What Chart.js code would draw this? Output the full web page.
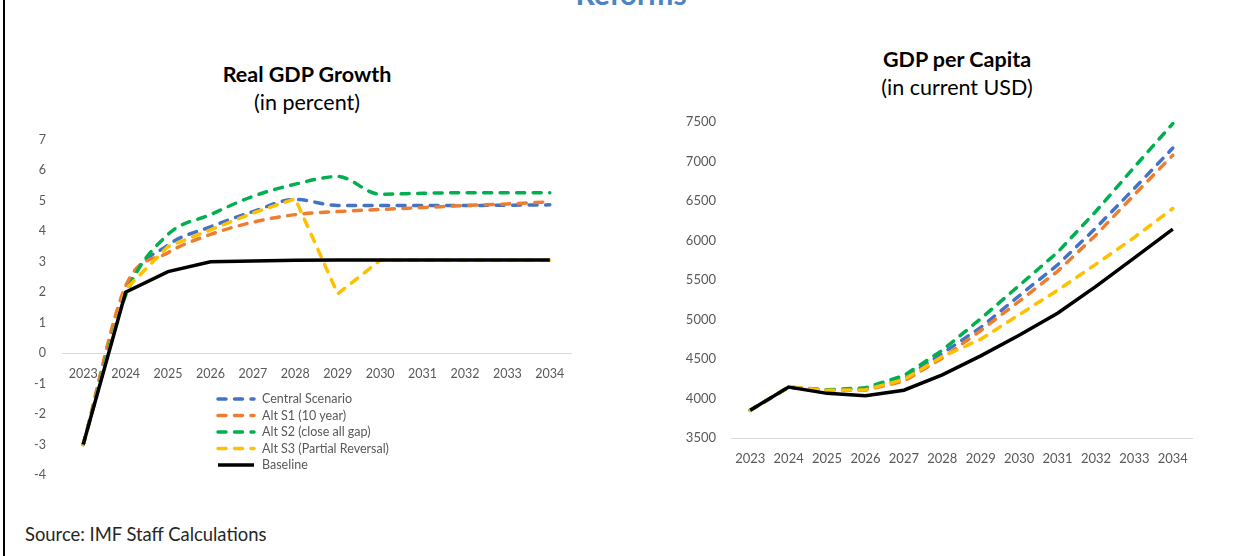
<!DOCTYPE html>
<html>
<head>
<meta charset="utf-8">
<script src="https://cdn.jsdelivr.net/npm/chart.js@4"></script>
<style>
  html, body { margin: 0; padding: 0; background: #fff; }
  body { width: 1236px; height: 556px; position: relative; overflow: hidden; font-family: Lato, "Noto Sans", sans-serif; }
  canvas { position: absolute; top: 0; }
  .frame { position: absolute; left: 3px; top: 0; width: 2px; height: 556px; background: #000; }
  .head { position: absolute; left: 0; width: 1236px; top: -22px; text-align: center; padding-left: 26px; box-sizing: border-box;
          font-size: 30px; line-height: 30px; font-weight: bold; color: #4a84c4; }
  .ttl { position: absolute; text-align: center; color: #000; font-size: 21.5px; line-height: 28px; }
  .ttl b { display: block; }
  .src { position: absolute; left: 25px; top: 523px; font-size: 18.4px; color: #262626; }
</style>
</head>
<body>
<div class="frame"></div>
<div class="head">Reforms</div>
<div class="ttl" style="left:157px; width:300px; top:60px;"><b>Real GDP Growth</b>(in percent)</div>
<div class="ttl" style="left:807px; width:300px; top:45px;"><b>GDP per Capita</b>(in current USD)</div>
<div class="src">Source: IMF Staff Calculations</div>
<canvas id="growth" style="left:0" width="618" height="556"></canvas>
<canvas id="perCapita" style="left:618px" width="618" height="556"></canvas>
<script>
// years on the x axis
const years = ['2023', '2024', '2025', '2026', '2027', '2028', '2029', '2030', '2031', '2032', '2033', '2034'];
const seriesNames = ['Central Scenario', 'Alt S1 (10 year)', 'Alt S2 (close all gap)', 'Alt S3 (Partial Reversal)', 'Baseline'];

// real GDP growth, percent
const growthCentral  = [-3.0, 2.1, 3.55, 4.15, 4.65, 5.05, 4.85, 4.85, 4.85, 4.85, 4.86, 4.87];
const growthAltS1    = [-3.0, 2.2, 3.3, 3.9, 4.3, 4.55, 4.65, 4.72, 4.78, 4.85, 4.9, 4.97];
const growthAltS2    = [-3.0, 1.9, 3.9, 4.55, 5.15, 5.55, 5.8, 5.22, 5.25, 5.27, 5.27, 5.27];
const growthAltS3    = [-3.0, 2.1, 3.5, 4.05, 4.6, 5.07, 1.95, 3.05, 3.05, 3.05, 3.05, 3.05];
const growthBaseline = [-3.0, 2.0, 2.68, 3.0, 3.03, 3.05, 3.06, 3.06, 3.06, 3.06, 3.06, 3.06];

// GDP per capita, current USD
const pcCentral  = [3850, 4145, 4110, 4120, 4250, 4570, 4900, 5300, 5690, 6160, 6660, 7170];
const pcAltS1    = [3850, 4145, 4105, 4105, 4220, 4510, 4860, 5230, 5610, 6070, 6580, 7080];
const pcAltS2    = [3850, 4140, 4110, 4135, 4290, 4610, 5010, 5430, 5850, 6370, 6930, 7480];
const pcAltS3    = [3850, 4145, 4105, 4110, 4240, 4530, 4750, 5060, 5370, 5700, 6040, 6405];
const pcBaseline = [3850, 4145, 4065, 4035, 4105, 4300, 4540, 4800, 5080, 5420, 5780, 6145];

const colors = ['#4472C4', '#ED7D31', '#00B050', '#FFC000', '#000000'];
const tickColor = '#595959';
const FONT = 'Lato, "Noto Sans", sans-serif';

function makeDatasets(rows, smooth) {
    return rows.map((data, i) => {
        const isBase = i === rows.length - 1;
        return {
            label: seriesNames[i],
            data: data,
            borderColor: colors[i],
            backgroundColor: colors[i],
            borderWidth: 3.5,
            borderDash: isBase ? [] : [8, 8.5],
            borderCapStyle: isBase ? 'butt' : 'round',
            pointRadius: 0,
            cubicInterpolationMode: (smooth && i < 3) ? 'monotone' : 'default',
            tension: 0,
            order: rows.length - 1 - i   // baseline drawn on top
        };
    });
}

// legend drawn inside the plot, under the axis
const innerLegend = {
    id: 'innerLegend',
    afterDraw(chart, args, opts) {
        if (!opts.show) return;
        const ctx = chart.ctx;
        ctx.save();
        ctx.font = '12.5px ' + FONT;
        ctx.textBaseline = 'middle';
        chart.data.datasets.forEach((ds, i) => {
            const y = opts.top + i * opts.gap;
            ctx.strokeStyle = ds.borderColor;
            ctx.lineWidth = ds.borderWidth;
            ctx.lineCap = ds.borderCapStyle;
            ctx.setLineDash(ds.borderDash);
            ctx.beginPath();
            ctx.moveTo(opts.left + 2, y);
            ctx.lineTo(opts.left + 38, y);
            ctx.stroke();
            ctx.fillStyle = tickColor;
            ctx.fillText(ds.label, opts.left + 46, y);
        });
        ctx.restore();
    }
};

function axisOptions(min, max, step, yWidth, yPad, xAt, xPad, xSize, ySize) {
    return {
        x: {
            type: 'category',
            offset: true,
            position: { y: xAt },
            grid: { display: false, drawTicks: false },
            border: { display: true, color: '#d9d9d9', width: 1 },
            ticks: { color: tickColor, font: { family: FONT, size: xSize }, padding: xPad, maxRotation: 0, autoSkip: false }
        },
        y: {
            min: min,
            max: max,
            grid: { display: false, drawTicks: false },
            border: { display: false },
            ticks: {
                stepSize: step, color: tickColor, font: { family: FONT, size: ySize }, padding: yPad,
                callback: (v) => String(v)
            },
            afterFit: (s) => { s.width = yWidth; }
        }
    };
}

new Chart(document.getElementById('growth').getContext('2d'), {
    type: 'line',
    data: {
        labels: years,
        datasets: makeDatasets([growthCentral, growthAltS1, growthAltS2, growthAltS3, growthBaseline], true)
    },
    options: {
        responsive: false,
        animation: false,
        layout: { padding: { left: 10, top: 140, right: 47, bottom: 81 } },
        scales: axisOptions(-4, 7, 1, 52, 16, 0, 13, 12.5, 12.5),
        plugins: {
            legend: { display: false },
            tooltip: { enabled: false },
            innerLegend: { show: true, left: 216, top: 399, gap: 16.5 }
        }
    },
    plugins: [innerLegend]
});

new Chart(document.getElementById('perCapita').getContext('2d'), {
    type: 'line',
    data: {
        labels: years,
        datasets: makeDatasets([pcCentral, pcAltS1, pcAltS2, pcAltS3, pcBaseline], false)
    },
    options: {
        responsive: false,
        animation: false,
        layout: { padding: { left: 43, top: 122, right: 44, bottom: 118 } },
        scales: axisOptions(3500, 7500, 500, 70, 15, 3500, 13, 13, 13),
        plugins: {
            legend: { display: false },
            tooltip: { enabled: false },
            innerLegend: { show: false }
        }
    },
    plugins: [innerLegend]
});
</script>
</body>
</html>
